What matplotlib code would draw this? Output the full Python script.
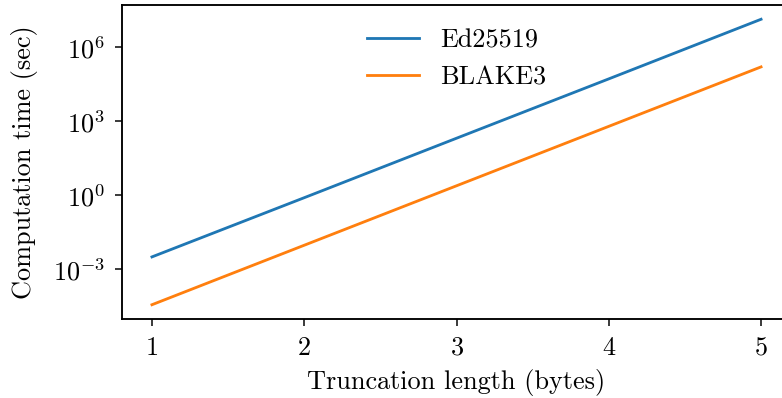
import matplotlib
matplotlib.use("Agg")
import matplotlib.pyplot as plt

plt.rcParams["font.family"] = "cmr10"
plt.rcParams["mathtext.fontset"] = "cm"
plt.rcParams["axes.formatter.use_mathtext"] = True
plt.rcParams["font.size"] = 14

# truncation length in bytes vs time to brute force (seconds)
trunc_bytes = [1, 2, 3, 4, 5]
ed25519_sec = [3.2e-3, 0.80, 205, 52000, 1.35e7]
blake3_sec = [3.7e-5, 0.0095, 2.43, 621, 1.59e5]

dpi = 135
fig = plt.figure(figsize=(782 / dpi, 398 / dpi), dpi=dpi)
ax = fig.add_axes([121.5 / 782, 1 - 319 / 398, 670 / 782, 314 / 398])

ax.plot(trunc_bytes, ed25519_sec, label="Ed25519")
ax.plot(trunc_bytes, blake3_sec, label="BLAKE3")
ax.set_yscale("log")
ax.minorticks_off()
ax.set_yticks([1e-3, 1e0, 1e3, 1e6])
ax.set_xticks(trunc_bytes)
ax.tick_params(pad=5.5)
for s in ax.spines.values():
    s.set_linewidth(1.0)

ax.set_xlabel("Truncation length (bytes)", labelpad=5)
ax.set_ylabel("Computation time (sec)", labelpad=8)
ax.legend(loc="upper center", frameon=False)

fig.savefig("out.png", dpi=dpi)
